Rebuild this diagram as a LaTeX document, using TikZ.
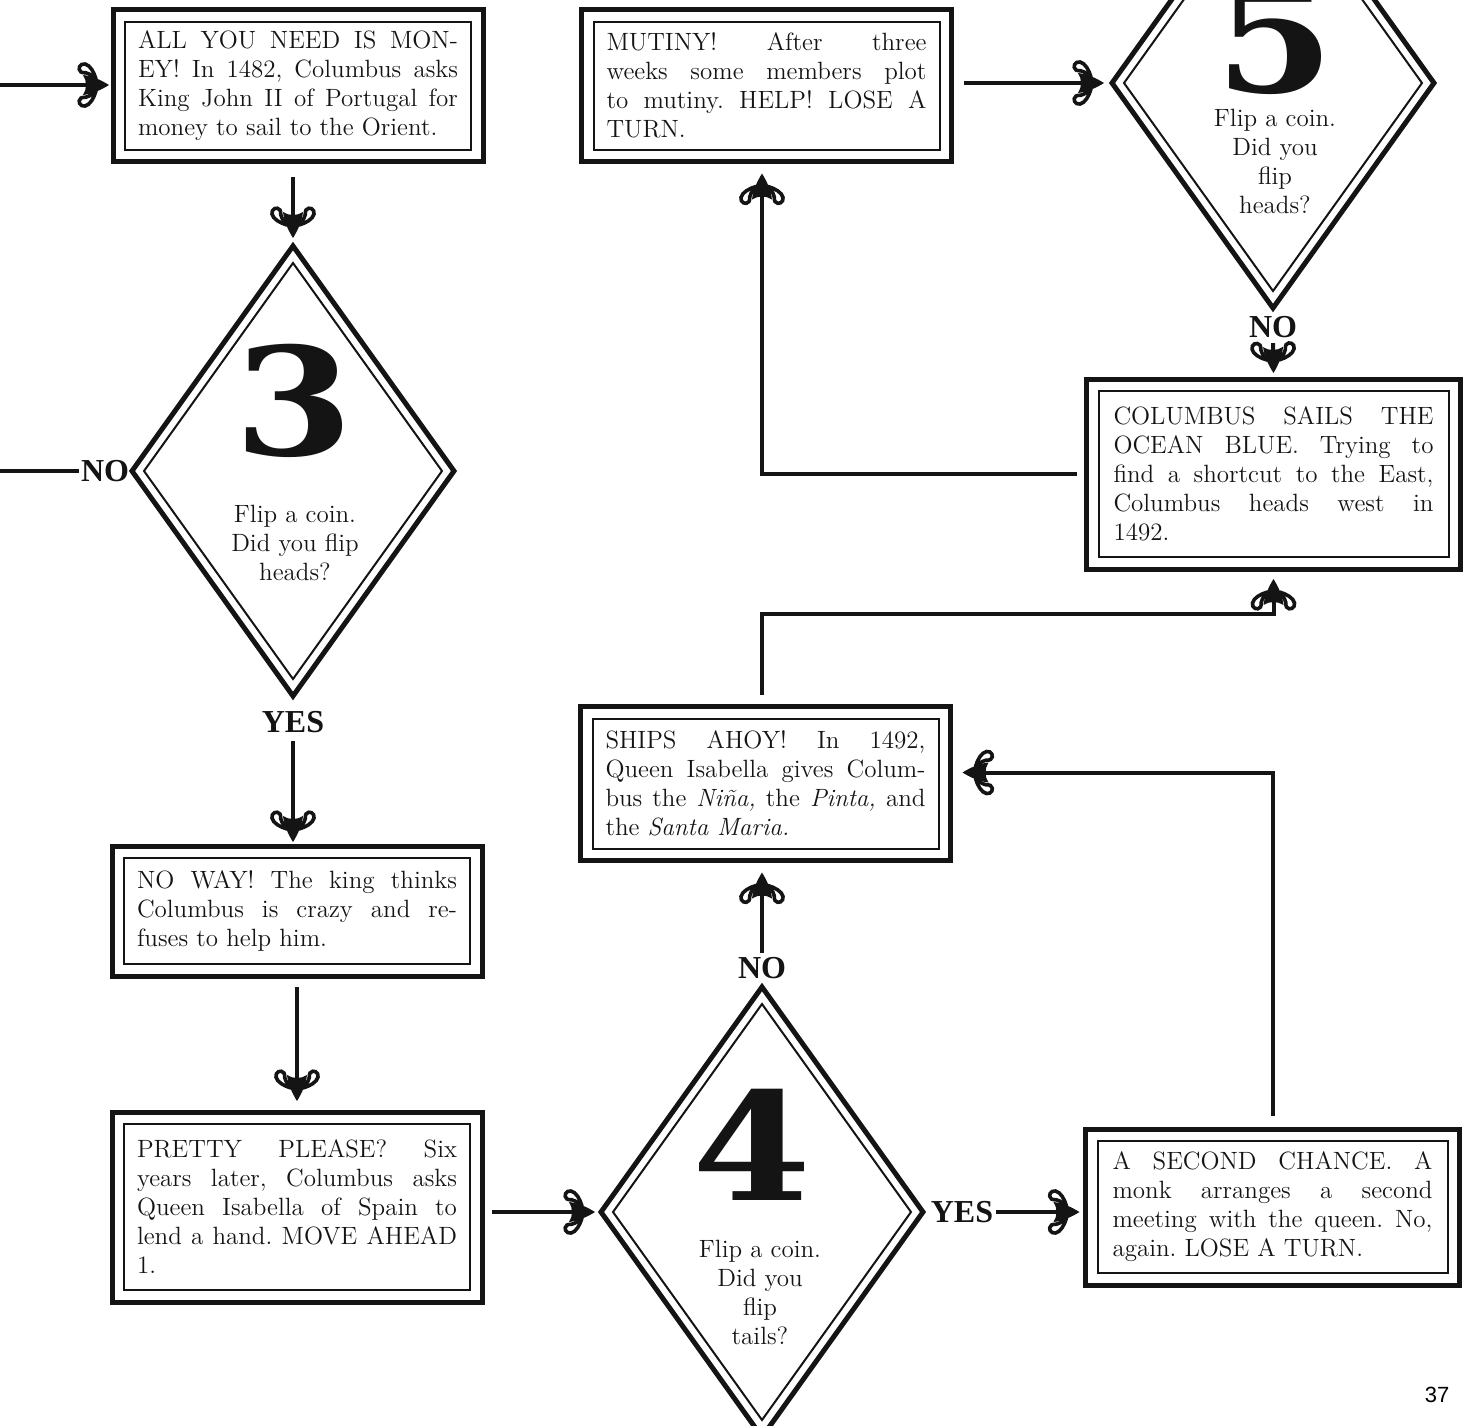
\documentclass[tikz,border=0pt]{standalone}
\usepackage{fontspec}
\newfontfamily\cbDigitFont{DejaVu Serif}[FakeStretch=1.14]
\newfontfamily\cbLabelFont{Liberation Serif}
\newfontfamily\cbFolioFont{Liberation Sans}
\usetikzlibrary{shapes.geometric,decorations.markings,calc}
\definecolor{cbInk}{HTML}{141414}
\tikzset{
  cb card/.style={draw=cbInk, line width=2.5pt, inner sep=0pt, outer sep=0pt, minimum width=185pt, minimum height=#1, text width=160pt, align=justify, text=cbInk,
    font=\fontsize{12.5pt}{14.5pt}\selectfont,
    execute at begin node={\frenchspacing\tolerance=10000\hbadness=10000\relax},
    path picture={\draw[cbInk, line width=1pt] ($(path picture bounding box.north west)+(12,12)$) rectangle ($(path picture bounding box.south east)+(-12,-12)$);}},
  cb coin/.style={diamond, draw=cbInk, line width=2.5pt, inner sep=0pt, outer sep=0pt, minimum width=161pt, minimum height=225pt,
    path picture={\draw[cbInk, line width=1pt] ($(path picture bounding box.north)+(0,17)$) -- ($(path picture bounding box.east)+(-12,0)$) -- ($(path picture bounding box.south)+(0,-17)$) -- ($(path picture bounding box.west)+(12,0)$) -- cycle;}},
  cb digit/.style={anchor=base, inner sep=0pt, text=cbInk, font=\cbDigitFont\bfseries\fontsize{75pt}{75pt}\selectfont},
  cb ask/.style={align=center, inner sep=0pt, text=cbInk, font=\fontsize{12.5pt}{14.5pt}\selectfont},
  cb answer/.style={inner sep=1pt, text=cbInk, font=\cbLabelFont\bfseries\fontsize{16pt}{16pt}\selectfont},
  cb link/.style={draw=cbInk, line width=2pt},
  cb fleur/.style={shorten >=7pt, postaction={decorate, decoration={markings, mark=at position 1 with {
    \fill[cbInk] (0,0) .. controls (-8,5) and (-17,9) .. (-26,10) .. controls (-22,4) and (-22,-4) .. (-26,-10) .. controls (-17,-9) and (-8,-5) .. (0,0) -- cycle;
    \foreach \s in {1,-1}{\draw[cbInk, line width=1.8pt, line cap=round] (-13,6*\s) .. controls (-15,13*\s) and (-19,20*\s) .. (-24,21*\s) .. controls (-29,22*\s) and (-32,16*\s) .. (-28,13*\s) .. controls (-25,11*\s) and (-23,15*\s) .. (-25,17*\s);}
  }}}},
}
\begin{document}
\begin{tikzpicture}[x=0.5pt,y=-0.5pt]
  \useasboundingbox (0,0) rectangle (1469,1426);
  \clip (0,0) rectangle (1469,1426);
  \node[cb card=76pt] (money) at (298,85.5) {ALL YOU NEED IS MON-\linebreak EY! In 1482, Columbus asks\linebreak King John II of Portugal for\linebreak money to sail to the Orient.};
  \node[cb card=76pt] (mutiny) at (766.5,85.5) {MUTINY! After three\linebreak weeks some members plot\linebreak to mutiny. HELP! LOSE A\linebreak TURN.};
  \node[cb card=95pt, minimum width=187pt] (sails) at (1273.5,474) {COLUMBUS SAILS THE\linebreak OCEAN BLUE. Trying to\linebreak find a shortcut to the East,\linebreak Columbus heads west in\linebreak 1492.};
  \node[cb card=77pt] (ahoy) at (765.5,783.5) {SHIPS AHOY! In 1492,\linebreak Queen Isabella gives Colum-\linebreak bus the \textit{Niña,} the \textit{Pinta,} and\linebreak the \textit{Santa Maria.}};
  \node[cb card=65pt] (noway) at (297,911) {NO WAY! The king thinks\linebreak Columbus is crazy and re-\linebreak fuses to help him.};
  \node[cb card=95pt] (please) at (297,1207) {PRETTY PLEASE? Six\linebreak years later, Columbus asks\linebreak Queen Isabella of Spain to\linebreak lend a hand. MOVE AHEAD\linebreak 1.};
  \node[cb card=78pt, minimum width=187pt] (chance) at (1272.5,1207) {A SECOND CHANCE. A\linebreak monk arranges a second\linebreak meeting with the queen. No,\linebreak again. LOSE A TURN.};
  \node[cb coin] (coin3) at (293,471) {};
  \node[cb coin] (coin5) at (1273,83) {};
  \node[cb coin] (coin4) at (762,1212) {};
  \node[cb digit] (three) at (294,455) {3};
  \node[cb digit] (five) at (1275,92) {5};
  \node[cb digit] (four) at (752,1200) {4};
  \node[cb ask] (ask3) at (295,543) {Flip a coin.\\Did you flip\\heads?};
  \node[cb ask] (ask5) at (1275,161) {Flip a coin.\\Did you\\flip\\heads?};
  \node[cb ask] (ask4) at (760,1292) {Flip a coin.\\Did you\\flip\\tails?};
  \node[cb answer] (no3) at (105,471) {NO};
  \node[cb answer] (yes3) at (293,722) {YES};
  \node[cb answer] (no5) at (1273,327) {NO};
  \node[cb answer] (no4) at (762,968) {NO};
  \node[cb answer] (yes4) at (962,1212) {YES};
  \node[inner sep=0pt, font=\cbFolioFont\fontsize{11pt}{11pt}\selectfont] (folio) at (1437,1395) {37};
  \coordinate (entry) at (0,85);
  \coordinate (exit) at (0,471);
  \draw[cb link,cb fleur] (entry) -- ($(entry -| money.west)+(-4,0)$);
  \draw[cb link,cb fleur] ($(money.south -| coin3.north)+(0,15)$) -- ($(coin3.north)+(0,-8)$);
  \draw[cb link] (exit) -- (no3.west);
  \draw[cb link,cb fleur] ($(yes3.south)+(0,6)$) -- ($(noway.north -| yes3)+(0,-4)$);
  \draw[cb link,cb fleur] ($(noway.south)+(0,11)$) -- ($(please.north)+(0,-11)$);
  \draw[cb link,cb fleur] ($(please.east |- coin4.west)+(10,0)$) -- ($(coin4.west)+(-6,0)$);
  \draw[cb link,cb fleur] (yes4.east) -- ($(yes4.east -| chance.west)+(-6,0)$);
  \draw[cb link,cb fleur] ($(no4.north)+(0,-2)$) -- ($(ahoy.south -| no4)+(0,12)$);
  \draw[cb link,cb fleur] ($(chance.north)+(0,-13)$) |- ($(ahoy.east)+(12,-11)$);
  \draw[cb link,cb fleur] ($(ahoy.north -| no4)+(0,-12)$) -- ++(0,-81) -| ($(sails.south)+(0,10)$);
  \draw[cb link,cb fleur] ($(sails.west)+(-10,0)$) -| ($(mutiny.south -| no4)+(0,12)$);
  \draw[cb link,cb fleur] ($(mutiny.east |- coin5.west)+(12,0)$) -- ($(coin5.west)+(-8,0)$);
  \draw[cb link,cb fleur] ($(no5.south)+(0,3)$) -- ($(sails.north)+(0,-6)$);
\end{tikzpicture}
\end{document}
